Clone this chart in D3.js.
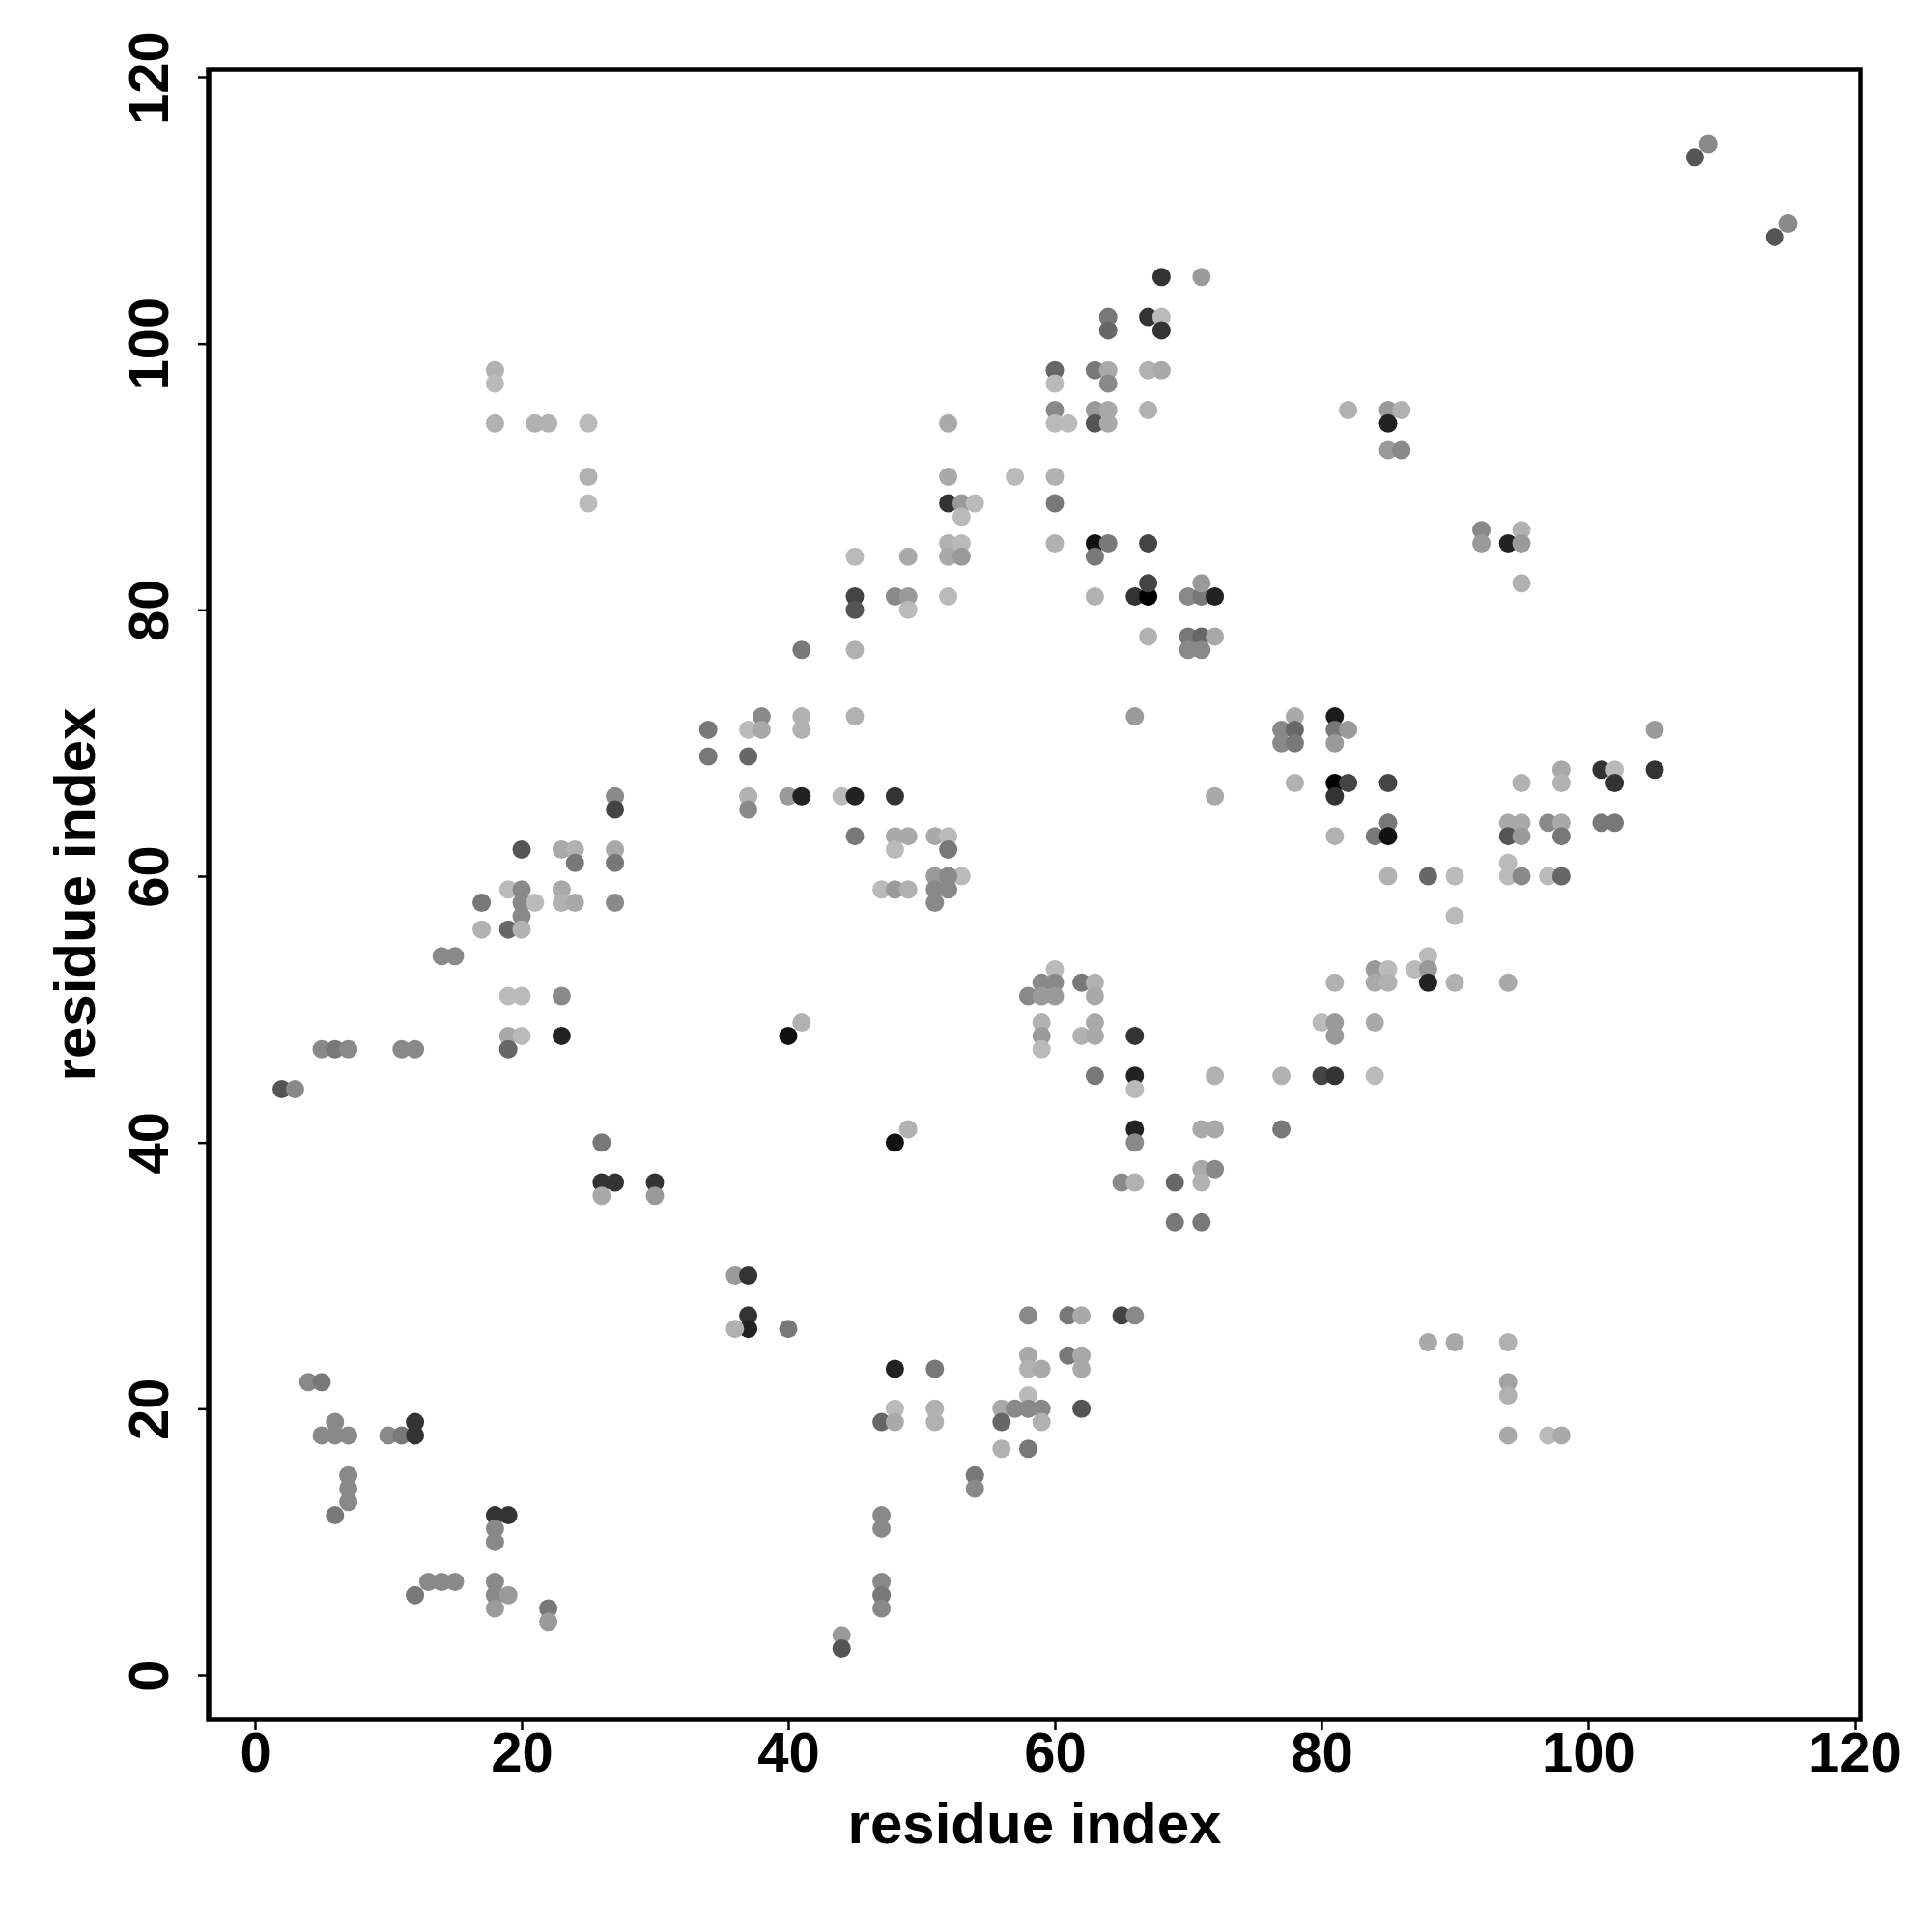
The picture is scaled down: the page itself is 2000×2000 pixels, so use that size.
<!DOCTYPE html>
<html lang="en">
<head>
  <meta charset="UTF-8">
  <title>Contact map</title>
  <style>
    body { margin: 0; background: #fff; }
    text { font-family: "Liberation Sans", Arial, Helvetica, sans-serif; font-weight: bold; }
  </style>
</head>
<body>

  <section class="plot"></section>

  <script src="https://cdn.jsdelivr.net/npm/d3@7/dist/d3.min.js"></script>
  <script>
    // Data: residue pairs in contact and a contact score (0 = weak, 1 = strong)
    const residueX = [
      18, 18, 18, 21, 22, 25, 25, 25,
      68, 71, 64, 64, 67, 68, 68, 60, 60, 63, 64, 64, 67, 68,
      60, 60, 61, 63, 64, 63, 64, 67, 52, 52, 57, 60, 52, 53,
      53, 54, 60, 52, 53, 52, 53, 60, 63, 64, 63, 67, 45, 49,
      45, 45, 48, 49, 49, 52, 63, 66, 67, 67, 70, 71, 71, 72,
      109, 108, 115, 114, 82, 85, 86, 85, 85, 86, 92, 92, 94, 95, 95, 95,
      38, 34, 37, 38, 34, 37, 27, 27, 37, 37, 20, 23, 24, 24, 27, 27,
      19, 20, 20, 21, 23, 23, 24, 27, 17, 20, 17, 19, 20, 14, 15,
      19, 20, 23, 19, 20, 19, 23, 5, 6, 7, 11, 12, 2, 3, 26,
      41, 45, 67, 70, 71, 72, 70, 71, 41, 41, 45, 66, 78, 77, 78, 77, 78, 78,
      40, 41, 44, 45, 48, 72, 45, 48, 49, 48, 51, 52, 52, 53, 51, 52, 47, 48,
      49, 51, 52, 51, 60, 59, 60, 58, 59, 60, 62, 63, 63, 59, 59, 59, 62, 63,
      63, 66, 41, 40, 63, 66, 66, 72, 77, 48, 49, 66, 66, 71, 72, 77, 71, 72,
      81, 81, 82, 81, 81, 82, 81, 85, 85, 84, 85, 81, 85, 88,
      90, 90, 94, 94, 95, 97, 98, 95, 98, 98, 101, 102, 102, 105,
      105, 94, 95, 94, 95, 97, 98, 98, 101, 102, 81, 84, 85, 84,
      85, 87, 88, 88, 88, 90, 94, 80, 81, 81, 84, 80, 81, 84,
      26, 27, 26, 30, 30, 36, 37, 37, 37, 36, 4, 5, 6, 5, 6, 7, 10, 11, 12,
      12, 7, 7, 7, 6, 18, 19, 18, 18, 13, 14, 15, 12, 18, 18, 19, 18, 22, 22,
      65, 66, 69, 71, 69, 71, 40, 58, 61, 62, 65, 66, 48, 51, 58,
      58, 59, 61, 62, 62, 58, 56, 57, 58, 59, 56, 59, 62, 47, 48,
      48, 51, 51, 56, 58, 54, 54, 47, 47, 47, 47, 47, 44, 44,
      88, 90, 94, 94, 94, 94, 97, 98
    ];
    const residueY = [
      98, 97, 94, 94, 94, 94, 90, 88,
      105, 105, 102, 101, 102, 102, 101, 98, 97, 98, 98, 97, 98, 98,
      95, 94, 94, 95, 95, 94, 94, 95, 94, 90, 90, 90, 88, 88,
      87, 88, 88, 85, 85, 84, 84, 85, 85, 85, 84, 85, 84, 84,
      81, 80, 81, 81, 80, 81, 81, 81, 81, 82, 81, 81, 82, 81,
      115, 114, 109, 108, 95, 95, 95, 94, 92, 92, 86, 85, 85, 86, 85, 82,
      72, 71, 71, 71, 69, 69, 66, 65, 66, 65, 62, 62, 62, 61, 62, 61,
      59, 59, 58, 58, 59, 58, 58, 58, 58, 57, 56, 56, 56, 54, 54,
      51, 51, 51, 48, 48, 47, 48, 47, 47, 47, 47, 47, 44, 44, 40,
      77, 77, 78, 78, 78, 78, 77, 77, 72, 71, 72, 72, 72, 71, 71, 70, 70, 67,
      66, 66, 66, 66, 66, 66, 63, 63, 63, 62, 63, 63, 62, 60, 60, 60, 59, 59,
      59, 59, 59, 58, 53, 52, 52, 51, 51, 51, 52, 52, 51, 49, 48, 47, 48, 49,
      48, 48, 49, 48, 45, 45, 44, 45, 45, 40, 41, 41, 40, 41, 41, 41, 38, 38,
      72, 71, 71, 70, 67, 67, 66, 67, 64, 63, 63, 63, 60, 60,
      60, 57, 60, 61, 60, 60, 60, 67, 68, 67, 68, 68, 67, 71,
      68, 64, 64, 63, 63, 64, 64, 63, 64, 64, 52, 53, 53, 52,
      52, 53, 54, 53, 52, 52, 52, 49, 49, 48, 49, 45, 45, 45,
      37, 37, 36, 37, 36, 30, 30, 27, 26, 26, 22, 22, 19, 18, 18, 18, 18, 18, 19,
      18, 15, 14, 13, 12, 12, 12, 11, 10, 7, 7, 7, 6, 7, 6, 6, 5, 5, 4,
      37, 37, 37, 37, 34, 34, 26, 27, 27, 27, 27, 27, 23, 23, 24,
      23, 23, 24, 24, 23, 21, 20, 20, 20, 20, 19, 19, 20, 19, 20,
      19, 20, 19, 17, 17, 15, 14, 12, 11, 7, 6, 5, 3, 2,
      25, 25, 25, 22, 21, 18, 18, 18
    ];
    const contactScore = [
      .07, .02, .07, .07, .07, .02, .07, .02,
      .73, .19, .37, .46, .73, .02, .73, .46, .02, .37, .11, .28, .07, .11,
      .28, .02, .02, .19, .11, .55, .11, .07, .11, .11, .02, .07, .73, .19,
      .02, .02, .37, .07, .02, .11, .19, .07, .91, .37, .37, .64, .02, .11,
      .64, .55, .28, .19, .02, .02, .07, .73, 1, .64, .28, .37, .19, .82,
      .28, .55, .28, .55, .07, .19, .07, .82, .19, .28, .28, .19, .82, .07, .19, .07,
      .28, .37, .02, .11, .37, .46, .28, .64, .07, .28, .55, .11, .07, .37, .11, .37,
      .02, .28, .28, .02, .11, .07, .11, .28, .37, .28, .07, .46, .07, .28, .28,
      .02, .02, .28, .11, .02, .46, .82, .28, .37, .28, .28, .28, .55, .28, .37,
      .37, .07, .07, .37, .46, .11, .28, .28, .07, .07, .07, .19, .11, .28, .46, .28, .37, .07,
      .19, .82, .02, .82, .73, .11, .37, .11, .11, .02, .11, .02, .37, .02, .19, .28, .02, .19,
      .07, .28, .28, .28, .02, .28, .28, .28, .19, .19, .37, .07, .11, .07, .19, .02, .07, .11,
      .11, .73, .07, .91, .37, .82, .02, .07, .07, .91, .07, .82, .28, .11, .11, .37, .11, .28,
      .86, .37, .19, .19, 1, .64, .73, .64, .37, .37, .91, .07, .07, .46,
      .02, .02, .02, .02, .28, .02, .46, .07, .11, .07, .73, .02, .73, .19,
      .73, .11, .11, .55, .19, .28, .11, .37, .37, .37, .07, .19, .02, .11,
      .07, .02, .02, .19, .82, .07, .11, .02, .19, .19, .11, .64, .73, .02,
      .73, .73, .11, .73, .19, .19, .73, .73, .82, .07, .28, .37, .28, .28, .28, .28, .28, .37, .73,
      .73, .28, .28, .28, .37, .73, .73, .28, .28, .28, .28, .28, .37, .28, .28, .19, .19, .37, .19,
      .28, .07, .46, .07, .37, .37, .37, .28, .37, .11, .64, .28, .82, .37, .11,
      .07, .11, .37, .11, .11, .02, .11, .28, .28, .28, .46, .07, .55, .46, .02,
      .11, .07, .07, .07, .37, .37, .28, .28, .28, .28, .37, .28, .19, .55,
      .11, .11, .07, .15, .07, .11, .02, .11
    ];
    const tickValues = [0, 20, 40, 60, 80, 100, 120];
    const axisTitle = "residue index";

    const contacts = residueX.map((d, i) => ({ x: d, y: residueY[i], score: contactScore[i] }));

    // Sizes
    const width = 2000, height = 2000;
    const box = { left: 216, top: 72, right: 1926, bottom: 1780 };

    const svg = d3.select(".plot")
      .append("svg")
      .attr("width", width)
      .attr("height", height);

    const x = d3.scaleLinear().domain([0, 120]).range([264, 1920]);
    const y = d3.scaleLinear().domain([0, 120]).range([1734, 80]);
    const grey = d3.scaleLinear().domain([0, 1]).range(["#bebebe", "#000000"]);

    // Points
    svg.append("g")
      .selectAll("circle")
      .data(contacts)
      .enter()
      .append("circle")
        .attr("cx", d => x(d.x))
        .attr("cy", d => y(d.y))
        .attr("r", 9.5)
        .attr("fill", d => grey(d.score));

    // Box
    svg.append("rect")
      .attr("x", box.left)
      .attr("y", box.top)
      .attr("width", box.right - box.left)
      .attr("height", box.bottom - box.top)
      .attr("fill", "none")
      .attr("stroke", "#000")
      .attr("stroke-width", 5.5);

    // X axis
    const xAxis = svg.append("g")
      .attr("transform", `translate(0,${box.bottom + 2})`)
      .call(d3.axisBottom(x).tickValues(tickValues).tickSize(9).tickPadding(2));
    xAxis.select(".domain").remove();
    xAxis.selectAll("line").attr("stroke-width", 2.5);
    xAxis.selectAll("text")
      .attr("font-size", 58)
      .attr("font-family", "Liberation Sans, Arial, sans-serif")
      .attr("font-weight", "bold")
      .attr("fill", "#000");

    // Y axis
    const yAxis = svg.append("g")
      .attr("transform", `translate(${box.left - 2},0)`)
      .call(d3.axisLeft(y).tickValues(tickValues).tickSize(9));
    yAxis.select(".domain").remove();
    yAxis.selectAll("line").attr("stroke-width", 2.5);
    yAxis.selectAll("text")
      .attr("x", 0)
      .attr("y", -40)
      .attr("dy", 0)
      .attr("text-anchor", "middle")
      .attr("transform", "rotate(-90)")
      .attr("font-size", 58)
      .attr("font-family", "Liberation Sans, Arial, sans-serif")
      .attr("font-weight", "bold")
      .attr("fill", "#000");

    // Titles
    svg.append("text")
      .attr("x", (box.left + box.right) / 2)
      .attr("y", 1908)
      .attr("text-anchor", "middle")
      .attr("font-size", 60)
      .text(axisTitle);

    svg.append("text")
      .attr("transform", `translate(98,${(box.top + box.bottom) / 2}) rotate(-90)`)
      .attr("text-anchor", "middle")
      .attr("font-size", 60)
      .text(axisTitle);
  </script>
</body>
</html>
